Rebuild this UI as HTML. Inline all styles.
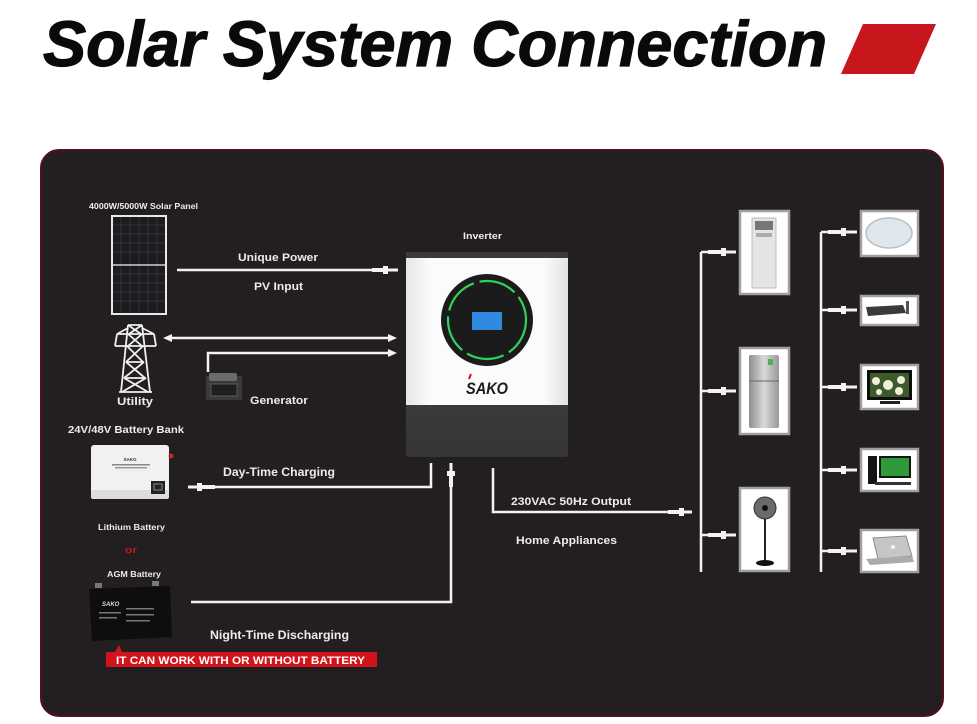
<!DOCTYPE html>
<html><head><meta charset="utf-8"><style>
html,body{margin:0;padding:0;background:#fff;}
svg{display:block;}
text{font-family:"Liberation Sans",sans-serif;font-weight:bold;}
</style></head><body>
<svg width="977" height="724" viewBox="0 0 977 724" xmlns="http://www.w3.org/2000/svg">
<rect width="977" height="724" fill="#ffffff"/>
<!-- Title -->
<text x="43" y="66" font-size="64" font-style="italic" fill="#0a0a0a" stroke="#0a0a0a" stroke-width="1.2" textLength="784" lengthAdjust="spacingAndGlyphs">Solar System Connection</text>
<polygon points="863,24 936,24 914,74 841,74" fill="#c8161d"/>

<!-- Panel -->
<rect x="41" y="150" width="902" height="566" rx="18" fill="#231f20" stroke="#55111a" stroke-width="2"/>

<!-- Labels -->
<g fill="#ececec">
<text x="89" y="209" font-size="8.5" textLength="109" lengthAdjust="spacingAndGlyphs">4000W/5000W Solar Panel</text>
<text x="238" y="261" font-size="11" textLength="80" lengthAdjust="spacingAndGlyphs">Unique Power</text>
<text x="254" y="290" font-size="11" textLength="49" lengthAdjust="spacingAndGlyphs">PV Input</text>
<text x="117" y="405" font-size="11" textLength="36" lengthAdjust="spacingAndGlyphs">Utility</text>
<text x="250" y="404" font-size="11" textLength="58" lengthAdjust="spacingAndGlyphs">Generator</text>
<text x="68" y="433" font-size="10.5" textLength="116" lengthAdjust="spacingAndGlyphs">24V/48V Battery Bank</text>
<text x="223" y="476" font-size="11.5" textLength="112" lengthAdjust="spacingAndGlyphs">Day-Time Charging</text>
<text x="98" y="530" font-size="8.5" textLength="67" lengthAdjust="spacingAndGlyphs">Lithium Battery</text>
<text x="107" y="577" font-size="8.5" textLength="54" lengthAdjust="spacingAndGlyphs">AGM Battery</text>
<text x="210" y="639" font-size="11.5" textLength="139" lengthAdjust="spacingAndGlyphs">Night-Time Discharging</text>
<text x="463" y="239" font-size="9" textLength="39" lengthAdjust="spacingAndGlyphs">Inverter</text>
<text x="511" y="505" font-size="11" textLength="120" lengthAdjust="spacingAndGlyphs">230VAC 50Hz Output</text>
<text x="516" y="544" font-size="11" textLength="101" lengthAdjust="spacingAndGlyphs">Home Appliances</text>
</g>
<text x="125" y="553" font-size="9" fill="#c8161d" textLength="12" lengthAdjust="spacingAndGlyphs">or</text>

<!-- Red banner -->
<polygon points="115,652 119,645 122,652" fill="#d3131c"/>
<rect x="106" y="652" width="271" height="15" fill="#d3131c"/>
<text x="116" y="664" font-size="11" fill="#ffffff" textLength="249" lengthAdjust="spacingAndGlyphs">IT CAN WORK WITH OR WITHOUT BATTERY</text>

<!-- Solar panel -->
<rect x="112" y="216" width="54" height="98" fill="#1c1c20" stroke="#e8e8e8" stroke-width="2"/>
<g stroke="#3a3a40" stroke-width="0.8">
<line x1="121" y1="217" x2="121" y2="313"/><line x1="130" y1="217" x2="130" y2="313"/><line x1="139" y1="217" x2="139" y2="313"/><line x1="148" y1="217" x2="148" y2="313"/><line x1="157" y1="217" x2="157" y2="313"/>
<line x1="113" y1="225" x2="165" y2="225"/><line x1="113" y1="234" x2="165" y2="234"/><line x1="113" y1="243" x2="165" y2="243"/><line x1="113" y1="252" x2="165" y2="252"/><line x1="113" y1="274" x2="165" y2="274"/><line x1="113" y1="283" x2="165" y2="283"/><line x1="113" y1="292" x2="165" y2="292"/><line x1="113" y1="301" x2="165" y2="301"/>
</g>
<line x1="113" y1="265" x2="165" y2="265" stroke="#d0d0d0" stroke-width="1.5"/>

<!-- Utility tower -->
<g stroke="#f0f0f0" stroke-width="1.8" fill="none">
<path d="M128,325 L121,392 M142,325 L150,392"/>
<path d="M117,334 H154 M115,346 H156 M117,334 L115,346 M154,334 L156,346 M117,334 L128,328 M154,334 L142,328"/>
<path d="M128,325 H142 M128,325 L141,334 M142,325 L129,334 M128,334 L142,346 M142,334 L128,346 M127,346 L143,362 M143,346 L126,362 M126,362 L145,378 M144,362 L124,378 M124,378 L148,392 M146,378 L122,392"/>
<path d="M126,362 H144 M124,378 H146 M119,392 H152"/>
</g>

<!-- Generator -->
<rect x="206" y="376" width="36" height="24" rx="2" fill="#3a3a3c"/>
<rect x="209" y="373" width="28" height="8" rx="2" fill="#6a6a6c"/>
<rect x="211" y="384" width="26" height="12" fill="#1f1f21" stroke="#5a5a5c" stroke-width="1"/>

<!-- Connection lines -->
<g stroke="#f2f2f2" stroke-width="2.5" fill="none">
<line x1="177" y1="270" x2="380" y2="270"/>
<line x1="168" y1="338" x2="391" y2="338"/>
<path d="M208,372 V353 H391"/>
<path d="M212,487 H431 V463"/>
<path d="M191,602 H451 V478"/>
<path d="M493,468 V512 H672"/>
<line x1="701" y1="252" x2="701" y2="572"/>
<line x1="821" y1="232" x2="821" y2="572"/>
<line x1="701" y1="252" x2="710" y2="252"/>
<line x1="701" y1="391" x2="710" y2="391"/>
<line x1="701" y1="535" x2="710" y2="535"/>
<line x1="821" y1="232" x2="830" y2="232"/>
<line x1="821" y1="310" x2="830" y2="310"/>
<line x1="821" y1="387" x2="830" y2="387"/>
<line x1="821" y1="470" x2="830" y2="470"/>
<line x1="821" y1="551" x2="830" y2="551"/>
</g>
<!-- Arrowheads -->
<g fill="#f2f2f2">
<polygon points="163,338 172,334 172,342"/>
<polygon points="397,338 388,334 388,342"/>
<polygon points="397,353 388,349 388,357"/>
</g>
<!-- Plugs -->
<g fill="#f2f2f2">
<rect x="372" y="268" width="12" height="4"/><rect x="383" y="266" width="5" height="8"/><rect x="388" y="268.5" width="10" height="3"/>
<rect x="188" y="485.5" width="10" height="3"/><rect x="197" y="483" width="5" height="8"/><rect x="201" y="485" width="14" height="4"/>
<rect x="449.5" y="463" width="3" height="9"/><rect x="447" y="471" width="8" height="5"/><rect x="449" y="475" width="4" height="12"/>
<rect x="668" y="510" width="12" height="4"/><rect x="679" y="508" width="5" height="8"/><rect x="684" y="510.5" width="8" height="3"/>
<rect x="708" y="250" width="14" height="4"/><rect x="721" y="248" width="5" height="8"/><rect x="726" y="250.5" width="10" height="3"/>
<rect x="708" y="389" width="14" height="4"/><rect x="721" y="387" width="5" height="8"/><rect x="726" y="389.5" width="10" height="3"/>
<rect x="708" y="533" width="14" height="4"/><rect x="721" y="531" width="5" height="8"/><rect x="726" y="533.5" width="10" height="3"/>
<rect x="828" y="230" width="14" height="4"/><rect x="841" y="228" width="5" height="8"/><rect x="846" y="230.5" width="11" height="3"/>
<rect x="828" y="308" width="14" height="4"/><rect x="841" y="306" width="5" height="8"/><rect x="846" y="308.5" width="11" height="3"/>
<rect x="828" y="385" width="14" height="4"/><rect x="841" y="383" width="5" height="8"/><rect x="846" y="385.5" width="11" height="3"/>
<rect x="828" y="468" width="14" height="4"/><rect x="841" y="466" width="5" height="8"/><rect x="846" y="468.5" width="11" height="3"/>
<rect x="828" y="549" width="14" height="4"/><rect x="841" y="547" width="5" height="8"/><rect x="846" y="549.5" width="11" height="3"/>
</g>

<!-- Inverter -->
<defs>
<linearGradient id="invw" x1="0" x2="1" y1="0" y2="0">
<stop offset="0" stop-color="#e6e6e6"/><stop offset="0.15" stop-color="#fbfbfb"/><stop offset="0.85" stop-color="#fbfbfb"/><stop offset="1" stop-color="#e2e2e2"/>
</linearGradient>
<linearGradient id="invd" x1="0" x2="0" y1="0" y2="1">
<stop offset="0" stop-color="#4a4a4c"/><stop offset="1" stop-color="#353537"/>
</linearGradient>
<linearGradient id="silver" x1="0" x2="1" y1="0" y2="0">
<stop offset="0" stop-color="#8e8e90"/><stop offset="0.5" stop-color="#d8d8da"/><stop offset="1" stop-color="#9a9a9c"/>
</linearGradient>
</defs>
<rect x="406" y="252" width="162" height="205" rx="3" fill="url(#invd)"/>
<rect x="406" y="252" width="162" height="6" fill="#3a3a3a"/>
<rect x="406" y="258" width="162" height="147" fill="url(#invw)"/>
<circle cx="487" cy="320" r="46" fill="#1b1b1c"/>
<circle cx="487" cy="320" r="39" fill="none" stroke="#2fd35a" stroke-width="2.2" stroke-dasharray="38 6"/>
<rect x="472" y="312" width="30" height="18" fill="#2f8ae0"/>
<text x="487" y="394" font-size="17" fill="#1a1a1a" text-anchor="middle" font-style="italic" textLength="42" lengthAdjust="spacingAndGlyphs">SAKO</text>
<line x1="471" y1="374" x2="469" y2="379" stroke="#d0111b" stroke-width="2"/>

<!-- Lithium battery -->
<rect x="91" y="445" width="78" height="54" rx="3" fill="#f1f1f1"/>
<rect x="91" y="490" width="78" height="9" rx="2" fill="#dcdcdc"/>
<text x="130" y="461" font-size="4.5" fill="#333" text-anchor="middle">SAKO</text>
<rect x="112" y="464" width="38" height="1.5" fill="#888"/>
<rect x="115" y="467" width="32" height="1.5" fill="#999"/>
<rect x="151" y="481" width="14" height="13" fill="#222"/>
<rect x="154" y="484" width="8" height="6" fill="none" stroke="#888" stroke-width="1"/>
<circle cx="171" cy="456" r="2.5" fill="#c0262d"/>

<!-- AGM battery -->
<polygon points="89,589 170,586 172,637 92,641" fill="#0e0e0f"/>
<rect x="95" y="583" width="7" height="5" fill="#777"/>
<rect x="152" y="581" width="7" height="5" fill="#777"/>
<text x="102" y="606" font-size="6" fill="#ddd" font-style="italic">SAKO</text>
<g fill="#777">
<rect x="99" y="612" width="22" height="1.5"/><rect x="99" y="617" width="18" height="1.5"/><rect x="126" y="608" width="28" height="1.5"/><rect x="126" y="614" width="28" height="1.5"/><rect x="126" y="620" width="24" height="1.5"/>
</g>

<!-- Appliance boxes -->
<g fill="#ffffff" stroke="#a0a0a0" stroke-width="2.5">
<rect x="740" y="211" width="49" height="83"/>
<rect x="740" y="348" width="49" height="86"/>
<rect x="740" y="488" width="49" height="83"/>
<rect x="861" y="211" width="57" height="45"/>
<rect x="861" y="296" width="57" height="29"/>
<rect x="861" y="365" width="57" height="44"/>
<rect x="861" y="449" width="57" height="42"/>
<rect x="861" y="530" width="57" height="42"/>
</g>
<!-- AC -->
<rect x="752" y="218" width="24" height="70" fill="#e4e4e6" stroke="#bdbdbf" stroke-width="1"/>
<rect x="755" y="221" width="18" height="9" fill="#777"/>
<rect x="756" y="233" width="16" height="4" fill="#aaa"/>
<!-- Fridge -->
<rect x="749" y="355" width="30" height="73" rx="2" fill="url(#silver)"/>
<line x1="749" y1="381" x2="779" y2="381" stroke="#666" stroke-width="1"/>
<rect x="768" y="359" width="5" height="6" fill="#4caf50"/>
<!-- Fan -->
<circle cx="765" cy="508" r="11" fill="#6a6a6c" stroke="#333" stroke-width="1"/>
<circle cx="765" cy="508" r="3" fill="#111"/>
<line x1="765" y1="519" x2="765" y2="561" stroke="#222" stroke-width="2"/>
<ellipse cx="765" cy="563" rx="9" ry="3" fill="#111"/>
<!-- Lamp -->
<ellipse cx="889" cy="233" rx="23" ry="15" fill="#dfe7ec" stroke="#b8c0c6" stroke-width="1.5"/>
<!-- Router -->
<polygon points="866,307 903,305 906,313 868,316" fill="#3a3a3c"/>
<rect x="906" y="301" width="3" height="13" fill="#555"/>
<!-- TV -->
<rect x="867" y="370" width="45" height="30" fill="#0e0e0e"/>
<rect x="870" y="373" width="39" height="24" fill="#3c5a2a"/>
<circle cx="876" cy="381" r="4" fill="#f1efdc"/><circle cx="888" cy="385" r="5" fill="#f1efdc"/><circle cx="901" cy="380" r="4" fill="#f1efdc"/><circle cx="899" cy="391" r="4" fill="#f1efdc"/><circle cx="879" cy="392" r="3" fill="#f1efdc"/>
<rect x="880" y="401" width="20" height="3" fill="#222"/>
<!-- PC -->
<rect x="868" y="456" width="9" height="28" fill="#151515"/>
<rect x="879" y="456" width="32" height="22" fill="#161616"/>
<rect x="881" y="458" width="28" height="18" fill="#2e9a3a"/>
<rect x="875" y="482" width="36" height="3" fill="#333"/>
<!-- Laptop -->
<polygon points="873,538 906,536 912,556 878,559" fill="#c4c6c8" stroke="#8a8a8c" stroke-width="1"/>
<polygon points="866,559 912,556 914,562 870,565" fill="#a9abad"/>
<circle cx="893" cy="547" r="2" fill="#f4f4f4"/>
</svg>
</body></html>
